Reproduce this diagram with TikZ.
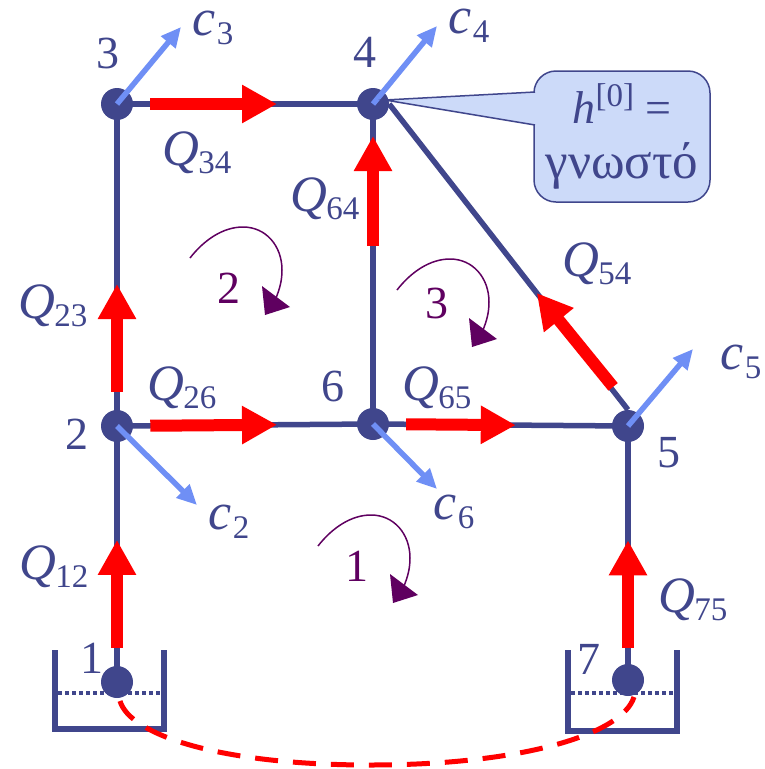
\documentclass[tikz,border=0pt]{standalone}
\usepackage{fontspec}
\setmainfont{Liberation Serif}
\usetikzlibrary{arrows.meta,calc}
\definecolor{navy}{HTML}{40468C}
\definecolor{skyarrow}{HTML}{6F8FF5}
\definecolor{notefill}{HTML}{CCDAF9}
\definecolor{turncol}{HTML}{5F0060}
\newcommand{\flowQ}[1]{{\fontsize{51}{51}\selectfont\textit{Q}}\kern-1pt\raisebox{-8pt}{\fontsize{33}{33}\selectfont #1}}
\newcommand{\demc}[1]{{\fontsize{52}{52}\selectfont\textit{c}}\kern1pt\raisebox{-9pt}{\fontsize{33}{33}\selectfont #1}}
\begin{document}
\begin{tikzpicture}[
  x=1pt, y=-1pt,
  every node/.style={inner sep=0pt, text=navy, font=\fontsize{46}{50}\selectfont},
  junction/.style={circle, fill=navy, minimum size=32pt},
  pipe/.style={draw=navy, line width=5.5pt},
  flow/.style={draw=red, line width=12pt, -{Triangle[length=35pt,width=36pt]}},
  demand/.style={draw=skyarrow, line width=5.5pt, -{Triangle[length=20pt,width=18pt]}},
  tank/.style={draw=navy, line width=5.5pt},
  level/.style={draw=navy, line width=3.5pt, dash pattern=on 3.5pt off 3.5pt},
  closing/.style={draw=red, line width=5pt, dash pattern=on 23pt off 15pt},
  turnlabel/.style={text=turncol},
  note/.style={draw=navy, line width=1.5pt, fill=notefill, rounded corners=22pt, minimum width=176pt, minimum height=131pt, align=center},
  turn/.pic={
    \draw[turncol, line width=1.5pt] (0,0) .. controls (14,-18) and (33,-31) .. (53,-31) .. controls (76,-31) and (92,-12) .. (92,12) .. controls (92,22) and (90,30) .. (86,40);
    \fill[turncol] (72,28) -- (100,49) -- (75,57) -- cycle;
  }
]
\useasboundingbox (0,0) rectangle (765,769);

\node[junction] (n1) at (117,682) {};
\node[junction] (n2) at (117,426) {};
\node[junction] (n3) at (117,104) {};
\node[junction] (n4) at (373,104) {};
\node[junction] (n5) at (628,426) {};
\node[junction] (n6) at (373,424) {};
\node[junction] (n7) at (628,680) {};

\draw[tank] (55,650) -- (55,729) -- (164,729) -- (164,650);
\draw[tank] (568,650) -- (568,731) -- (677,731) -- (677,650);
\draw[level] (58,693) -- (162,693);
\draw[level] (571,693) -- (675,693);

\draw[pipe] (n1.center) -- (n2.center);
\draw[pipe] (n2.center) -- (n3.center);
\draw[pipe] (n3.center) -- (n4.center);
\draw[pipe] (n4.center) -- (n6.center);
\draw[pipe] (n2.center) -- (n6.center);
\draw[pipe] (n6.center) -- (n5.center);
\draw[pipe] (n5.center) -- (n7.center);
\draw[pipe] (n4.east) -- (n5.north);

\coordinate (n1low) at (120,701);
\coordinate (n7low) at (634,697);
\draw[closing] (n1low) .. controls (130,735) and (220,765) .. (370,765) .. controls (520,765) and (622,735) .. (n7low);

\draw[flow] ($(n1)!.133!(n2)$) -- ($(n1)!.555!(n2)$);
\draw[flow] ($(n2)!.106!(n3)$) -- ($(n2)!.441!(n3)$);
\draw[flow] ($(n3)!.13!(n4)$) -- ($(n3)!.625!(n4)$);
\draw[flow] ($(n2)!.13!(n6)$) -- ($(n2)!.625!(n6)$);
\draw[flow] ($(n6)!.556!(n4)$) -- ($(n6)!.9!(n4)$);
\draw[flow] ($(n6)!.13!(n5)$) -- ($(n6)!.56!(n5)$);
\draw[flow] ($(n5.north)!.075!(n4.east)+(3,0)$) -- ($(n5.north)!.382!(n4.east)$);
\draw[flow] ($(n7)!.126!(n5)$) -- ($(n7)!.55!(n5)$);

\coordinate (d3) at (181,27);
\coordinate (d4) at (437,26);
\coordinate (d2) at (197,505);
\coordinate (d6) at (437,489);
\coordinate (d5) at (693,349);
\draw[demand] (n3.center) -- (d3);
\draw[demand] (n4.center) -- (d4);
\draw[demand] (n2.center) -- (d2);
\draw[demand] (n6.center) -- (d6);
\draw[demand] (n5.center) -- (d5);

\node[note] (known) at (622,136.5) {\textit{h}\raisebox{17pt}{\fontsize{33}{33}\selectfont [0]} =\\[5pt]{\fontsize{51}{51}\selectfont γνωστό}};
\coordinate (tailtip) at (385,100);
\coordinate (tailup) at (535,92);
\coordinate (taildown) at (535,125);
\fill[notefill] (tailup) -- (tailtip) -- (taildown) -- cycle;
\draw[navy, line width=1.5pt] (tailup) -- (tailtip) -- (taildown);

\node (t1) at (92,658) {1};
\node (t2) at (77,434) {2};
\node (t3) at (108,53) {3};
\node (t4) at (365,52) {4};
\node (t5) at (669,453) {5};
\node (t6) at (333,386) {6};
\node (t7) at (589,659) {7};

\node (q12) at (54,567) {\flowQ{12}};
\node (q23) at (53,306) {\flowQ{23}};
\node (q34) at (197,153) {\flowQ{34}};
\node (q26) at (182,388) {\flowQ{26}};
\node (q64) at (325,199) {\flowQ{64}};
\node (q65) at (437,388) {\flowQ{65}};
\node (q54) at (597,264) {\flowQ{54}};
\node (q75) at (693,600) {\flowQ{75}};

\node (c3) at (213,28) {\demc{3}};
\node (c4) at (469,26) {\demc{4}};
\node (c2) at (229,522) {\demc{2}};
\node (c6) at (454,512) {\demc{6}};
\node (c5) at (741,362) {\demc{5}};

\pic at (318,546) {turn};
\pic at (190,258) {turn};
\pic at (397,290) {turn};
\node[turnlabel] (l1) at (357,566) {1};
\node[turnlabel] (l2) at (229,288) {2};
\node[turnlabel] (l3) at (437,303) {3};
\end{tikzpicture}
\end{document}
